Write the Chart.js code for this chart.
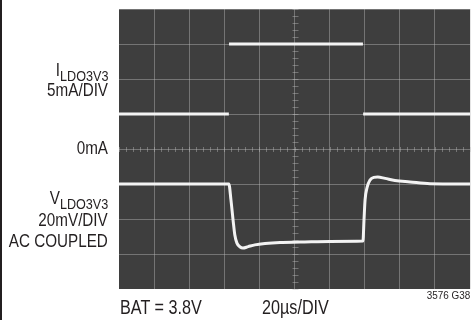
<!DOCTYPE html>
<html>
<head>
<meta charset="utf-8">
<script src="https://cdn.jsdelivr.net/npm/chart.js@4/dist/chart.umd.min.js"></script>
<style>
  html, body { margin: 0; padding: 0; background: #ffffff; }
  #wrap { position: relative; width: 471px; height: 320px; overflow: hidden; background: #fff; }
  #c { position: absolute; left: 0; top: 0; }
  .lbl { position: absolute; font-family: "Liberation Sans", Arial, sans-serif; color: #231f20; white-space: nowrap; line-height: 1; }
  .left { right: 363px; text-align: right; font-size: 17.5px; transform: scaleX(0.87); transform-origin: right center; }
  .sub { font-size: 14.5px; position: relative; top: 5px; }
  .bot { font-size: 19.5px; transform: scaleX(0.83); transform-origin: left center; }
  #border { position: absolute; left: 0; top: 0; width: 2px; height: 320px; background: #231f20; }
</style>
</head>
<body>
<div id="wrap">
  <canvas id="c" width="471" height="320"></canvas>
  <div id="border"></div>
  <div class="lbl left" style="top:62.2px">I<span class="sub">LDO3V3</span></div>
  <div class="lbl left" style="top:82.2px">5mA/DIV</div>
  <div class="lbl left" style="top:140.2px">0mA</div>
  <div class="lbl left" style="top:190.2px">V<span class="sub">LDO3V3</span></div>
  <div class="lbl left" style="top:212.2px">20mV/DIV</div>
  <div class="lbl left" style="top:233.2px">AC COUPLED</div>
  <div class="lbl bot" style="left:120px; top:297.5px">BAT = 3.8V</div>
  <div class="lbl bot" style="left:262px; top:297.5px">20µs/DIV</div>
  <div class="lbl" style="right:1px; top:289.7px; font-size:11px; transform: scaleX(0.9); transform-origin: right center;">3576 G38</div>
</div>
<script>
// ---- Data (time in µs, 20 µs/DIV) ----
// Load current trace (mA), 5 mA/DIV, 0 mA at centre line
const currentTimes = [0, 62.6, 62.7, 139.0, 139.1, 200];
const currentMA    = [5, 5, 15, 15, 5, 5];
// Output voltage deviation (mV, AC coupled), 20 mV/DIV
const voltageTimes = [0, 62.6, 63.8, 65.0, 66.0, 67.2, 69.0, 70.6, 73.6, 77.4, 83.2, 91.8, 103.2, 120.2, 139.0,
                      139.6, 140.2, 141.4, 143.0, 145.2, 147.4, 151.6, 157.2, 165.8, 177.2, 200];
const voltageMV    = [0, 0, -9.2, -20.6, -29.2, -33.8, -36.0, -36.6, -35.8, -34.8, -34.0, -33.4, -33.2, -32.8, -32.6,
                      -20.6, -9.2, -1.8, 2.2, 3.8, 4.0, 3.2, 2.0, 1.2, 0.2, 0];
// Screen: 10 horizontal divisions, 8 vertical divisions
const timeTicks = [0, 20, 40, 60, 80, 100, 120, 140, 160, 180, 200];
const divTicks  = [0, 1, 2, 3, 4, 5, 6, 7, 8];
// Scope settings
const currentScale = 5;   // mA per division
const currentZeroDiv = 4; // 0 mA sits on the centre graticule line
const voltageScale = 20;  // mV per division
const voltageZeroDiv = 3; // AC-coupled reference level

const TRACE = '#f3f3f3';
const GRID = 'rgba(190,190,190,0.42)';

const currentPts = currentTimes.map((t, i) => ({ x: t, y: currentZeroDiv + currentMA[i] / currentScale }));
const voltagePts = voltageTimes.map((t, i) => ({ x: t, y: voltageZeroDiv + voltageMV[i] / voltageScale }));

const scopePlugin = {
  id: 'scope',
  beforeDraw(chart) {
    const { ctx, chartArea: a } = chart;
    ctx.save();
    ctx.fillStyle = '#3e3e3e';
    ctx.fillRect(a.left, a.top, a.right - a.left, a.bottom - a.top);
    ctx.restore();
  },
  beforeDatasetsDraw(chart) {
    const { ctx, scales: { x, y } } = chart;
    ctx.save();
    ctx.strokeStyle = GRID;
    ctx.lineWidth = 1;
    const cx = Math.round(x.getPixelForValue(100)) + 0.5;
    const cy = Math.round(y.getPixelForValue(4)) + 0.5;
    ctx.beginPath();
    for (let t = 0; t <= 200.001; t += 4) {
      const px = Math.round(x.getPixelForValue(t)) + 0.5;
      ctx.moveTo(px, cy - 2.5); ctx.lineTo(px, cy + 2.5);
    }
    for (let d = 0; d <= 8.001; d += 0.2) {
      const py = Math.round(y.getPixelForValue(d)) + 0.5;
      ctx.moveTo(cx - 3, py); ctx.lineTo(cx + 3, py);
    }
    ctx.stroke();
    ctx.restore();
  }
};

new Chart(document.getElementById('c'), {
  type: 'line',
  data: {
    datasets: [
      {
        data: currentPts,
        borderColor: TRACE,
        borderWidth: 3,
        pointRadius: 0,
        tension: 0,
        segment: { borderColor: c => (c.p0.parsed.y !== c.p1.parsed.y ? 'rgba(0,0,0,0)' : TRACE) }
      },
      {
        data: voltagePts,
        borderColor: TRACE,
        borderWidth: 3,
        pointRadius: 0,
        tension: 0.2,
        cubicInterpolationMode: 'monotone'
      }
    ]
  },
  options: {
    responsive: false,
    devicePixelRatio: 1,
    animation: false,
    layout: { padding: { left: 119, top: 9, right: 1, bottom: 31 } },
    plugins: { legend: { display: false }, tooltip: { enabled: false } },
    scales: {
      x: {
        type: 'linear', min: 0, max: 200,
        afterBuildTicks: s => { s.ticks = timeTicks.map(v => ({ value: v })); },
        ticks: { display: false },
        border: { display: false },
        grid: { drawTicks: false, lineWidth: 1, color: c => (c.index === 0 ? 'rgba(0,0,0,0)' : GRID) }
      },
      y: {
        type: 'linear', min: 0, max: 8,
        afterBuildTicks: s => { s.ticks = divTicks.map(v => ({ value: v })); },
        ticks: { display: false },
        border: { display: false },
        grid: { drawTicks: false, lineWidth: 1, color: c => (c.index === 0 ? 'rgba(0,0,0,0)' : GRID) }
      }
    }
  },
  plugins: [scopePlugin]
});
</script>
</body>
</html>
